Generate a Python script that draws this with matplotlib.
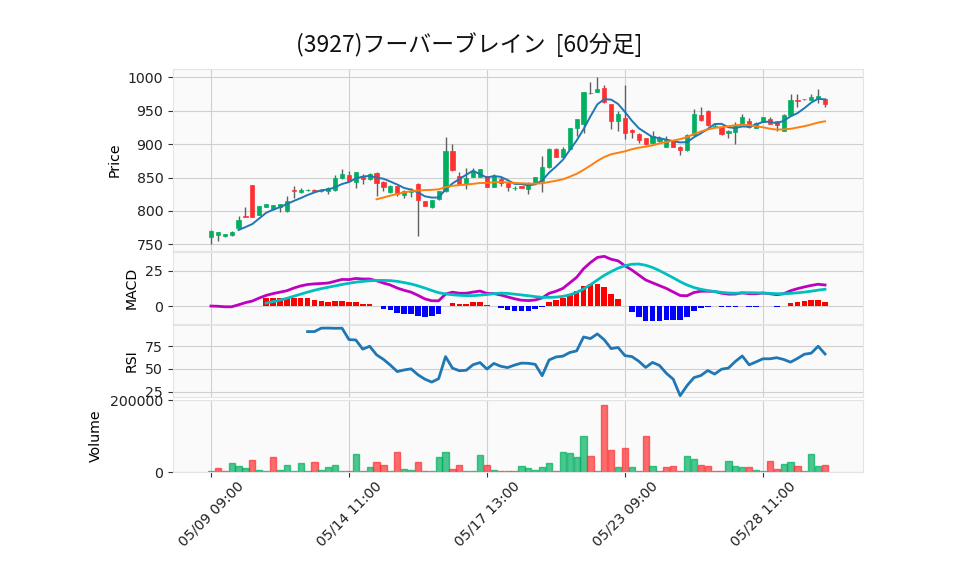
import matplotlib
matplotlib.use('Agg')
import matplotlib.pyplot as plt
import numpy as np
import pandas as pd

title = "(3927)フーバーブレイン  [60分足]"
days = ['05/09', '05/10', '05/13', '05/14', '05/15', '05/16', '05/17', '05/20',
        '05/21', '05/22', '05/23', '05/24', '05/27', '05/28', '05/29']
hours = ['09:00', '10:00', '11:00', '12:00', '13:00', '14:00']

opens = [761.5, 764, 762.5, 764, 774.5, 792.5, 838.5, 794, 806.5, 803.5,
         805.5, 800, 830.5, 828, 831, 830.5, 830, 830, 831, 850,
         854.5, 843, 851.5, 848.5, 857, 844, 828, 837.5, 824.5, 828.5,
         840.5, 815, 806, 817.5, 829.5, 890, 852.5, 840.5, 851.5, 851.5,
         852.5, 836.5, 847.5, 842.5, 834, 837.5, 833.5, 842, 844.5, 865.5,
         893, 880.5, 893, 924, 930, 976, 978.5, 983.5, 960, 935,
         938.5, 921.5, 915.5, 909, 901, 904, 895.5, 904.5, 896, 890.5,
         914, 944, 950, 925.5, 926, 916.5, 917.5, 930.5, 935, 924.5,
         933.5, 938, 934.5, 920, 944, 965.5, 967.5, 966.5, 968, 968]
closes = [770, 768, 765, 768.5, 786, 791.5, 791, 807, 810.5, 809,
          810.5, 814.5, 830, 832, 832, 830, 831, 835, 849.5, 856,
          844.5, 858.5, 848.5, 855, 842.5, 836.5, 837.5, 826, 829.5, 830,
          816, 808, 816.5, 830, 890, 861.5, 840.5, 849, 860.5, 863,
          836.5, 852.5, 842.5, 836.5, 834.5, 835, 842.5, 850.5, 865.5, 893,
          880.5, 893, 924, 937, 977.5, 976.5, 983, 962.5, 934, 945,
          916.5, 917.5, 906.5, 900, 912, 909, 906, 895.5, 890.5, 914,
          945.5, 935.5, 928, 927.5, 915.5, 920, 929, 940.5, 925, 932,
          940.5, 930, 928, 944, 965.5, 964.5, 967, 970.5, 972.5, 960]
highs = [771, 768.5, 765.5, 770.5, 793, 806, 839, 807.5, 811, 809.5,
         811, 823, 837.5, 834.5, 832.5, 832.5, 832.5, 835.5, 854, 863.5,
         859.5, 859, 855, 857, 858, 845, 838.5, 838, 831, 835,
         841.5, 815.5, 817, 830.5, 911, 900, 859, 864, 864, 863.5,
         853, 855.5, 851.5, 843, 837.5, 838, 843, 851, 882.5, 893.5,
         893.5, 895.5, 924.5, 937.5, 978, 993.5, 1001, 988.5, 960.5, 950,
         988.5, 922, 916, 909.5, 919.5, 911.5, 911.5, 905, 896.5, 914.5,
         953, 955, 950.5, 930, 926.5, 921, 933, 945, 939, 932.5,
         941, 941, 935, 944.5, 974.5, 975, 968, 975, 982.5, 968.5]
lows = [750, 755.5, 760.5, 763, 774, 791, 790.5, 793.5, 806, 801.5,
        799, 798, 820, 827.5, 830.5, 828.5, 828, 826, 830.5, 848,
        844, 834.5, 841, 846, 822.5, 830, 827.5, 822, 819.5, 821.5,
        763, 807, 805, 817, 829, 860, 840, 832.5, 851, 851,
        835.5, 836, 837, 830.5, 831.5, 834.5, 826, 841.5, 828, 865,
        880, 880, 892.5, 911.5, 916.5, 975.5, 978, 962, 922.5, 919,
        908, 909, 901.5, 899, 900.5, 903.5, 895, 895, 884, 890,
        913.5, 935, 927.5, 925, 913, 909, 900, 930, 924.5, 923.5,
        933, 929.5, 920, 919.5, 943.5, 956, 966.5, 966, 962, 955.5]
volumes = [1500, 11200, 1500, 26000, 15800, 10200, 34400, 4600, 1500, 42800,
           4600, 20500, 1500, 26000, 1500, 28800, 4600, 13000, 20500, 1500,
           1500, 51200, 3700, 13000, 27000, 20500, 1500, 56700, 7400, 4600,
           28800, 1900, 1500, 42800, 56700, 7400, 20500, 1500, 1500, 48400,
           20500, 4600, 3700, 1900, 1500, 15800, 10200, 4600, 13000, 24200,
           1500, 54900, 53000, 40900, 99500, 43700, 1500, 186000, 60500, 13000,
           66000, 13000, 1500, 99500, 15800, 1900, 13000, 15800, 1500, 43700,
           35300, 18600, 15800, 1900, 1500, 29800, 15800, 13000, 13000, 4600,
           1500, 29800, 7400, 21400, 27000, 15800, 1500, 49300, 15800, 18600]

labels = [f"{d} {h}" for d in days for h in hours]

plt.rcParams['font.family'] = ['DejaVu Sans']
FS = 10.2
plt.rcParams['font.size'] = FS

o = np.array(opens, float)
c = np.array(closes, float)
h = np.array(highs, float)
l = np.array(lows, float)
v = np.array(volumes, float)
n = len(c)
x = np.arange(n)
s = pd.Series(c)
ma5 = s.rolling(5).mean()
ma25 = s.rolling(25).mean()
ema12 = s.ewm(span=12, adjust=False).mean()
ema26 = s.ewm(span=26, adjust=False).mean()
macd = ema12 - ema26
signal = macd.rolling(9).mean()
hist = macd - signal
delta = s.diff()
gain = delta.clip(lower=0).rolling(14).mean()
loss = (-delta.clip(upper=0)).rolling(14).mean()
rsi = 100 * gain / (gain + loss)

UP = '#00b060'
DN = '#fe3032'
BG = '#fafafa'
GRID = '#d0d0d0'

fig = plt.figure(figsize=(9.58, 5.75), dpi=100)
LEFT, RIGHT = 173, 863
L, W = LEFT / 958, (RIGHT - LEFT) / 958
def ax_at(top, bot):
    return fig.add_axes([L, 1 - bot / 575, W, (bot - top) / 575])

ax1 = ax_at(69, 251)
ax2 = ax_at(252, 324)
ax3 = ax_at(325, 397)
ax4 = ax_at(400, 472)
axes = [ax1, ax2, ax3, ax4]

def lab_x(px):
    return (px - LEFT) / (RIGHT - LEFT)

tick_pos = list(range(0, n, 20))
for ax in axes:
    ax.set_facecolor(BG)
    ax.set_xlim(-5.5, 94.5)
    ax.set_xticks(tick_pos)
    ax.grid(True, color=GRID, lw=0.8)
    ax.set_axisbelow(True)
    for sp in ax.spines.values():
        sp.set_color('#e4e4e4')
        sp.set_linewidth(0.8)
    ax.tick_params(axis='y', length=3.5, width=0.8, color='#333333', labelcolor='#222222', labelsize=FS)
    ax.tick_params(axis='x', length=3.5, width=0.8, color='#333333')
for ax in axes[:-1]:
    ax.tick_params(axis='x', length=0, labelbottom=False)

# candles
up = c >= o
col = np.where(up, UP, DN)
ax1.vlines(x, l, h, color='#606060', lw=1.0, zorder=2)
body_h = np.maximum(np.abs(c - o), 0.8)
ax1.bar(x, body_h, bottom=np.minimum(o, c), width=0.6, color=col, edgecolor=col, lw=0.5, zorder=3)
ax1.plot(x, ma5, color='#1f77b4', lw=1.4, zorder=4)
ax1.plot(x, ma25, color='#ff7f0e', lw=1.4, zorder=4)
ax1.set_ylim(740, 1012.5)
ax1.set_yticks([750, 800, 850, 900, 950, 1000])
ax1.set_ylabel('Price')
ax1.yaxis.set_label_coords(lab_x(122), 0.5)

# MACD
hcol = np.where(hist >= 0, 'red', 'blue')
ax2.bar(x, hist, width=0.8, color=hcol, zorder=2)
ax2.plot(x, macd, color='m', lw=2.0, zorder=3)
ax2.plot(x, signal, color='c', lw=2.0, zorder=3)
ax2.set_ylim(-12.7, 38.2)
ax2.set_yticks([0, 25])
ax2.set_ylabel('MACD')
ax2.yaxis.set_label_coords(lab_x(139), 0.5)

# RSI
ax3.plot(x, rsi, color='#1f77b4', lw=2.0)
ax3.set_ylim(19.2, 98)
ax3.set_yticks([25, 50, 75])
ax3.set_ylabel('RSI')
ax3.yaxis.set_label_coords(lab_x(139), 0.5)

# Volume
vup = np.r_[True, c[1:] >= c[:-1]]
vcol = np.where(vup, UP, DN)
ax4.bar(x, v, width=0.9, color=vcol, edgecolor=vcol, lw=1.0, alpha=0.7, zorder=2)
ax4.set_ylim(0, 200000)
ax4.set_yticks([0, 200000])
ax4.set_ylabel('Volume')
ax4.yaxis.set_label_coords(lab_x(103), 0.5)
ax4.tick_params(axis='x', pad=1.5)
ax4.set_xticklabels([labels[i] for i in tick_pos], rotation=45, ha='center',
                    color='#222222', fontsize=FS)

fig.text(469.5 / 958, 1 - 45 / 575, title, ha='center', va='center', fontsize=16.5,
         family=['Noto Sans CJK JP', 'DejaVu Sans'], color='#111111')

fig.savefig('out.png', dpi=100, facecolor='white')
